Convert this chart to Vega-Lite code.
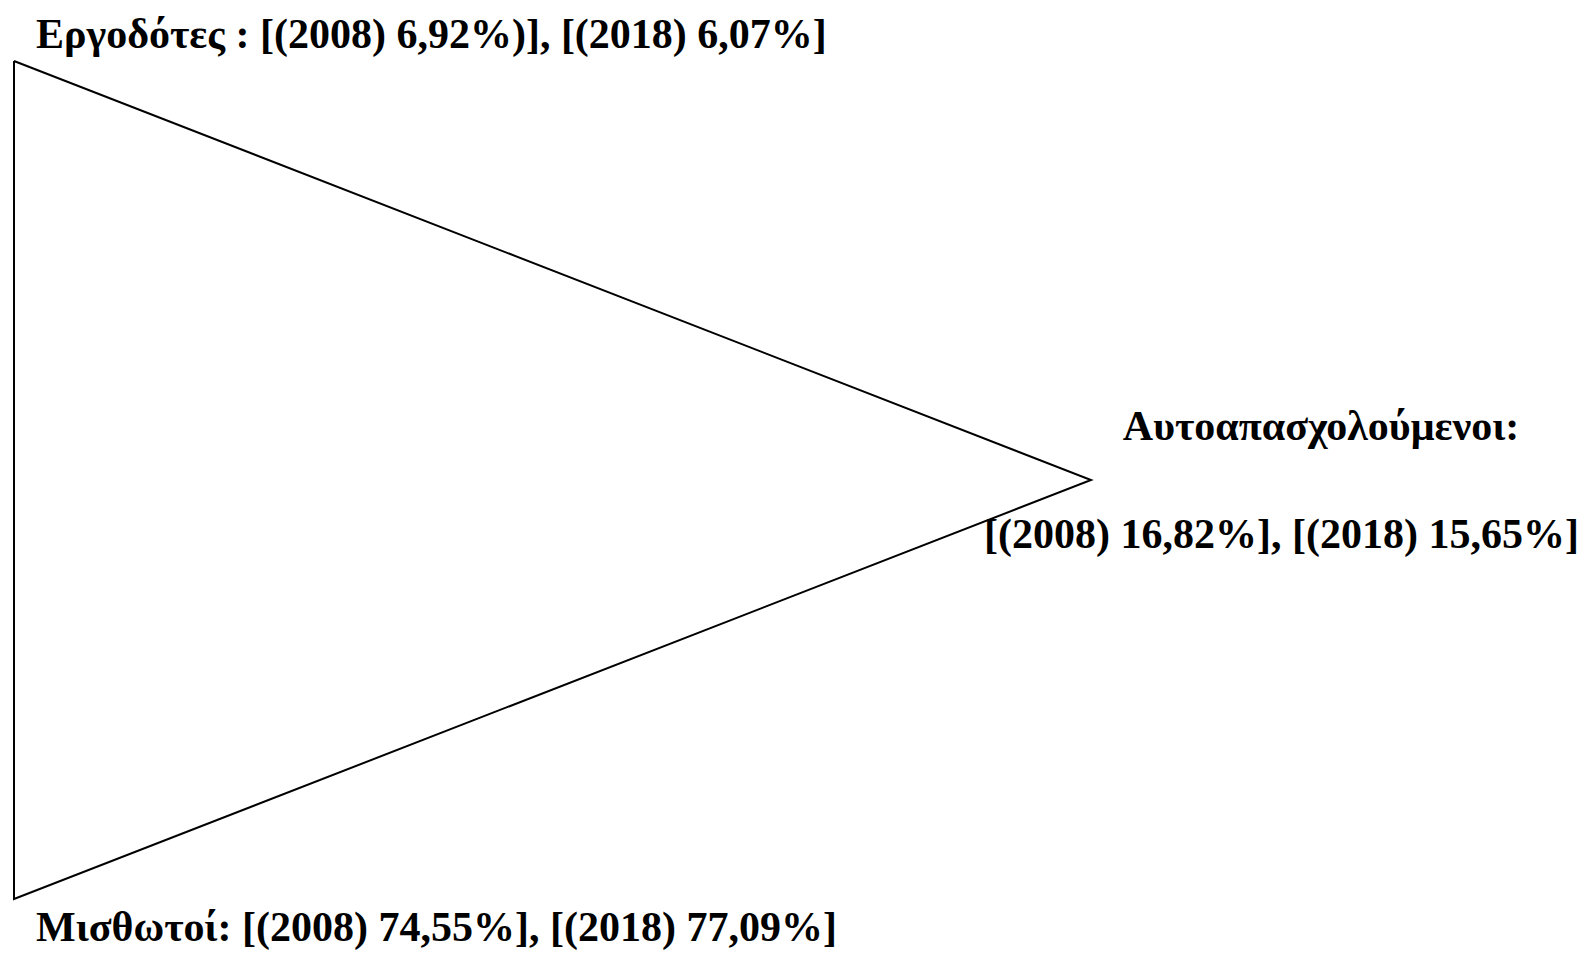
{
  "$schema": "https://vega.github.io/schema/vega-lite/v6.json",
  "width": 1587,
  "height": 954,
  "padding": 0,
  "autosize": {"type": "fit", "contains": "padding"},
  "background": "white",
  "config": {"view": {"stroke": null}},
  "datasets": {
    "triangle": [
      {"vertex": "Εργοδότες", "order": 1, "x": 14, "y": 61},
      {"vertex": "Αυτοαπασχολούμενοι", "order": 2, "x": 1091, "y": 480},
      {"vertex": "Μισθωτοί", "order": 3, "x": 14, "y": 899},
      {"vertex": "Εργοδότες", "order": 4, "x": 14, "y": 61}
    ],
    "labels": [
      {"label": "Εργοδότες : [(2008) 6,92%)], [(2018) 6,07%]", "x": 36, "y": 48, "anchor": "left"},
      {"label": "Αυτοαπασχολούμενοι:", "x": 1321, "y": 440, "anchor": "center"},
      {"label": "[(2008) 16,82%], [(2018) 15,65%]", "x": 1579, "y": 548, "anchor": "right"},
      {"label": "Μισθωτοί: [(2008) 74,55%], [(2018) 77,09%]", "x": 36, "y": 941, "anchor": "left"}
    ]
  },
  "layer": [
    {
      "data": {"name": "triangle"},
      "mark": {"type": "line", "color": "black", "strokeWidth": 2, "strokeJoin": "miter"},
      "encoding": {
        "x": {"field": "x", "type": "quantitative", "scale": {"domain": [0, 1587]}, "axis": null},
        "y": {"field": "y", "type": "quantitative", "scale": {"domain": [954, 0]}, "axis": null},
        "order": {"field": "order", "type": "quantitative"}
      }
    },
    {
      "data": {"name": "labels"},
      "transform": [{"filter": "datum.anchor == 'left'"}],
      "mark": {"type": "text", "align": "left", "baseline": "alphabetic", "font": "Liberation Serif", "fontWeight": "bold", "fontSize": 42, "color": "black"},
      "encoding": {
        "x": {"field": "x", "type": "quantitative", "scale": {"domain": [0, 1587]}, "axis": null},
        "y": {"field": "y", "type": "quantitative", "scale": {"domain": [954, 0]}, "axis": null},
        "text": {"field": "label"}
      }
    },
    {
      "data": {"name": "labels"},
      "transform": [{"filter": "datum.anchor == 'center'"}],
      "mark": {"type": "text", "align": "center", "baseline": "alphabetic", "font": "Liberation Serif", "fontWeight": "bold", "fontSize": 42, "color": "black"},
      "encoding": {
        "x": {"field": "x", "type": "quantitative", "scale": {"domain": [0, 1587]}, "axis": null},
        "y": {"field": "y", "type": "quantitative", "scale": {"domain": [954, 0]}, "axis": null},
        "text": {"field": "label"}
      }
    },
    {
      "data": {"name": "labels"},
      "transform": [{"filter": "datum.anchor == 'right'"}],
      "mark": {"type": "text", "align": "right", "baseline": "alphabetic", "font": "Liberation Serif", "fontWeight": "bold", "fontSize": 42, "color": "black"},
      "encoding": {
        "x": {"field": "x", "type": "quantitative", "scale": {"domain": [0, 1587]}, "axis": null},
        "y": {"field": "y", "type": "quantitative", "scale": {"domain": [954, 0]}, "axis": null},
        "text": {"field": "label"}
      }
    }
  ]
}
